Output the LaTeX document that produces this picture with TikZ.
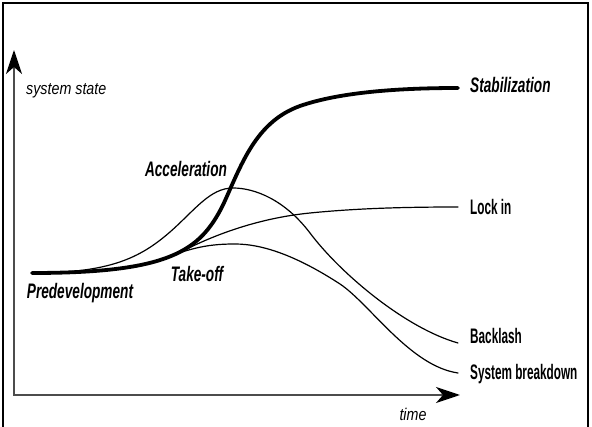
\documentclass[tikz,border=0pt]{standalone}
\usepackage{fontspec}
\setmainfont{Liberation Sans}
\newfontfamily\headfont[FakeStretch=0.65]{Liberation Sans}
\newfontfamily\endfont[FakeStretch=0.56]{Liberation Sans}
\newfontfamily\axisfont[FakeStretch=0.84]{Liberation Sans}
\usetikzlibrary{arrows.meta}

\begin{document}
\begin{tikzpicture}[x=1pt, y=-1pt,
    axisline/.style={line width=2pt, draw=black!70, {Stealth[length=24pt,width=16pt,inset=7pt,black]}-{Stealth[length=24pt,width=16pt,inset=7pt,black]}},
    thincurve/.style={line width=1.2pt, line cap=round},
    thickcurve/.style={line width=3.8pt, line cap=round},
    headlab/.style={inner sep=0pt, font=\headfont\bfseries\itshape\fontsize{21}{23}\selectfont},
    endlab/.style={inner sep=0pt, anchor=west, font=\endfont\bfseries\fontsize{21}{23}\selectfont},
    axislab/.style={inner sep=0pt, font=\axisfont\itshape\fontsize{17}{19}\selectfont}]
    \useasboundingbox (0,0) rectangle (592,427);

    % Frame
    \draw[line width=2.2pt] (3,427) -- (3,3) -- (588,3) -- (588,427);

    % Axes
    \coordinate (origin) at (14,395);
    \coordinate (ytip) at (14,50);
    \coordinate (xtip) at (460,395);
    \draw[axisline] (ytip) -- (origin) -- (xtip);
    \node[axislab, anchor=west] (ylab) at (26,91) {system state};
    \node[axislab] (xlab) at (413,414) {time};

    % Key points of the curves
    \coordinate (pre) at (32,273);
    \coordinate (take) at (179,253);
    \coordinate (stabend) at (458,88);
    \coordinate (lockend) at (458,207);
    \coordinate (backend) at (458,343);
    \coordinate (breakend) at (458,373);

    % Backlash
    \draw[thincurve] (pre) .. controls (110,273) and (140,258) .. (170,232)
        .. controls (195,210) and (210,188) .. (233,188)
        .. controls (255,188) and (285,200) .. (310,233)
        .. controls (340,273) and (405,328) .. (backend);
    % Lock in
    \draw[thincurve] (take) .. controls (215,234) and (260,218) .. (310,213)
        .. controls (360,208) and (410,207) .. (lockend);
    % System breakdown
    \draw[thincurve] (take) .. controls (200,246) and (215,244) .. (235,244)
        .. controls (265,244) and (300,258) .. (340,284)
        .. controls (370,304) and (410,366) .. (breakend);

    % Stabilization
    \draw[thickcurve] (pre) .. controls (170,273) and (200,251) .. (223,205)
        .. controls (241,166) and (255,122) .. (300,106)
        .. controls (340,92) and (400,88) .. (stabend);

    % Phase labels
    \node[headlab, anchor=west] (stab) at (470,85) {Stabilization};
    \node[headlab] (accel) at (186,169) {Acceleration};
    \node[headlab] (predev) at (80,293) {Predevelopment};
    \node[headlab] (takeoff) at (197,274) {Take-off};

    % End labels
    \node[endlab] (lockin) at (470,207) {Lock in};
    \node[endlab] (backlash) at (470,336) {Backlash};
    \node[endlab] (breakdown) at (470,374) {System breakdown};
\end{tikzpicture}
\end{document}
